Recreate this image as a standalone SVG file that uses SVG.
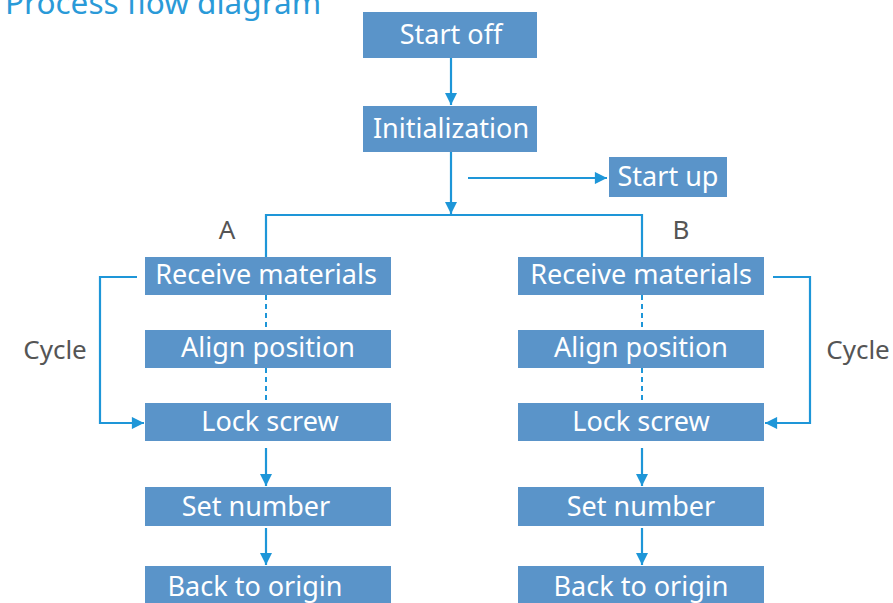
<svg xmlns="http://www.w3.org/2000/svg" width="893" height="603" viewBox="0 0 893 603">
<style>
.box{fill:#5a94c9}
.t{fill:#fff;font-family:"Noto Sans","Open Sans",sans-serif;font-size:27px;text-anchor:middle}
.lbl{fill:#555;font-family:"Noto Sans","Open Sans",sans-serif;font-size:26px;text-anchor:middle}
.ln{stroke:#1e96d8;stroke-width:2.2;fill:none}
.dash{stroke:#1e96d8;stroke-width:2;fill:none;stroke-dasharray:5,4}
</style>
<defs>
<marker id="ah" viewBox="0 0 10 10" refX="10" refY="5" markerWidth="6" markerHeight="5.5" markerUnits="strokeWidth" orient="auto">
<path d="M0,0 L10,5 L0,10 z" fill="#1e96d8"/>
</marker>
</defs>
<rect width="893" height="603" fill="#fff"/>
<text x="5" y="14" style="fill:#2a9ad8;font-family:'Noto Sans','Open Sans',sans-serif;font-size:31.5px">Process flow diagram</text>
<g id="connectors">
<line class="ln" x1="451" y1="58" x2="451" y2="105" marker-end="url(#ah)"/>
<line class="ln" x1="451" y1="152" x2="451" y2="214" marker-end="url(#ah)"/>
<line class="ln" x1="468" y1="178" x2="607" y2="178" marker-end="url(#ah)"/>
<polyline class="ln" points="266,257 266,215 642,215 642,257"/>
<line class="dash" x1="266" y1="295" x2="266" y2="330"/>
<line class="dash" x1="266" y1="368" x2="266" y2="403"/>
<line class="dash" x1="642" y1="295" x2="642" y2="330"/>
<line class="dash" x1="642" y1="368" x2="642" y2="403"/>
<line class="ln" x1="266" y1="448" x2="266" y2="486" marker-end="url(#ah)"/>
<line class="ln" x1="266" y1="528" x2="266" y2="565" marker-end="url(#ah)"/>
<line class="ln" x1="642" y1="448" x2="642" y2="486" marker-end="url(#ah)"/>
<line class="ln" x1="642" y1="528" x2="642" y2="565" marker-end="url(#ah)"/>
<polyline class="ln" points="137,277 100,277 100,423 144,423" marker-end="url(#ah)"/>
<polyline class="ln" points="773,277 810,277 810,423 765,423" marker-end="url(#ah)"/>
</g>
<g id="start-off"><rect class="box" x="363" y="12" width="174" height="46"/><text class="t" x="451" y="44">Start off</text></g>
<g id="initialization"><rect class="box" x="363" y="106" width="174" height="46"/><text class="t" x="451" y="138">Initialization</text></g>
<g id="start-up"><rect class="box" x="609" y="157" width="118" height="40"/><text class="t" x="668" y="186">Start up</text></g>
<g id="label-a"><text class="lbl" x="227" y="239">A</text></g>
<g id="label-b"><text class="lbl" x="681" y="239">B</text></g>
<g id="cycle-a"><text class="lbl" x="55" y="359">Cycle</text></g>
<g id="cycle-b"><text class="lbl" x="858" y="359">Cycle</text></g>
<g id="a-receive"><rect class="box" x="145" y="257" width="246" height="38"/><text class="t" x="266" y="284">Receive materials</text></g>
<g id="a-align"><rect class="box" x="145" y="330" width="246" height="38"/><text class="t" x="268" y="357">Align position</text></g>
<g id="a-lock"><rect class="box" x="145" y="403" width="246" height="38"/><text class="t" x="270" y="431">Lock screw</text></g>
<g id="a-set"><rect class="box" x="145" y="487" width="246" height="39"/><text class="t" x="256" y="516">Set number</text></g>
<g id="a-back"><rect class="box" x="145" y="566" width="246" height="40"/><text class="t" x="255" y="596">Back to origin</text></g>
<g id="b-receive"><rect class="box" x="518" y="257" width="246" height="38"/><text class="t" x="641" y="284">Receive materials</text></g>
<g id="b-align"><rect class="box" x="518" y="330" width="246" height="38"/><text class="t" x="641" y="357">Align position</text></g>
<g id="b-lock"><rect class="box" x="518" y="403" width="246" height="38"/><text class="t" x="641" y="431">Lock screw</text></g>
<g id="b-set"><rect class="box" x="518" y="487" width="246" height="39"/><text class="t" x="641" y="516">Set number</text></g>
<g id="b-back"><rect class="box" x="518" y="566" width="246" height="40"/><text class="t" x="641" y="596">Back to origin</text></g>
</svg>
